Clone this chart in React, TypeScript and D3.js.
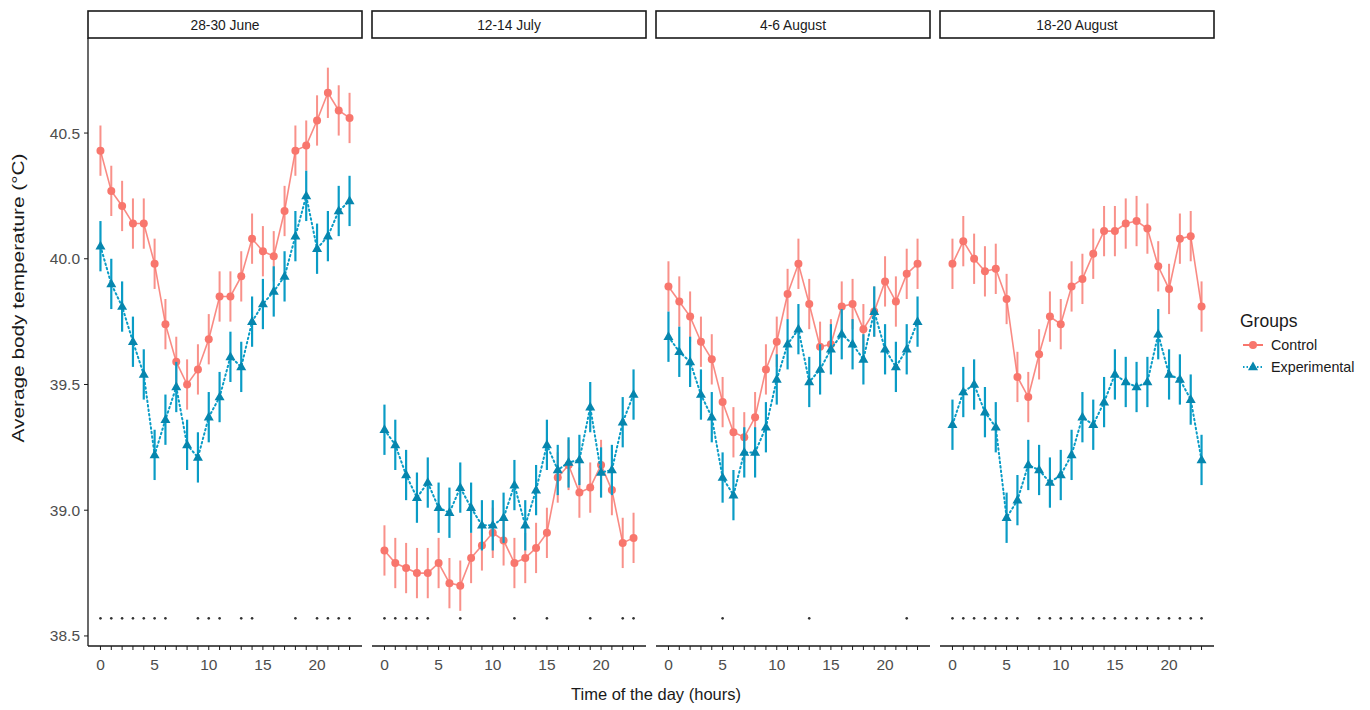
import React from 'react'
import * as d3 from 'd3'

// hours of the day
const hours = [0, 1, 2, 3, 4, 5, 6, 7, 8, 9, 10, 11, 12, 13, 14, 15, 16, 17, 18, 19, 20, 21, 22, 23]
const periods = ['28-30 June', '12-14 July', '4-6 August', '18-20 August']
const groups = ['Control', 'Experimental']
const xTicks = [0, 5, 10, 15, 20]
const yTicks = [38.5, 39.0, 39.5, 40.0, 40.5]

// mean body temperature per hour
const controlJune = [40.43, 40.27, 40.21, 40.14, 40.14, 39.98, 39.74, 39.59, 39.50, 39.56, 39.68, 39.85, 39.85, 39.93, 40.08, 40.03, 40.01, 40.19, 40.43, 40.45, 40.55, 40.66, 40.59, 40.56]
const experimentalJune = [40.05, 39.90, 39.81, 39.67, 39.54, 39.22, 39.36, 39.49, 39.26, 39.21, 39.37, 39.45, 39.61, 39.57, 39.75, 39.82, 39.87, 39.93, 40.09, 40.25, 40.04, 40.09, 40.19, 40.23]
const controlJuly = [38.84, 38.79, 38.77, 38.75, 38.75, 38.79, 38.71, 38.70, 38.81, 38.86, 38.91, 38.88, 38.79, 38.81, 38.85, 38.91, 39.13, 39.18, 39.07, 39.09, 39.18, 39.08, 38.87, 38.89]
const experimentalJuly = [39.32, 39.26, 39.14, 39.05, 39.11, 39.01, 38.99, 39.09, 39.01, 38.94, 38.94, 38.97, 39.10, 38.94, 39.08, 39.26, 39.16, 39.19, 39.20, 39.41, 39.15, 39.16, 39.35, 39.46]
const controlAug1 = [39.89, 39.83, 39.77, 39.67, 39.60, 39.43, 39.31, 39.29, 39.37, 39.56, 39.67, 39.86, 39.98, 39.82, 39.65, 39.66, 39.81, 39.82, 39.72, 39.79, 39.91, 39.83, 39.94, 39.98]
const experimentalAug1 = [39.69, 39.63, 39.59, 39.46, 39.37, 39.13, 39.06, 39.23, 39.23, 39.33, 39.52, 39.66, 39.72, 39.51, 39.56, 39.64, 39.70, 39.66, 39.60, 39.79, 39.64, 39.57, 39.64, 39.75]
const controlAug2 = [39.98, 40.07, 40.00, 39.95, 39.96, 39.84, 39.53, 39.45, 39.62, 39.77, 39.74, 39.89, 39.92, 40.02, 40.11, 40.11, 40.14, 40.15, 40.12, 39.97, 39.88, 40.08, 40.09, 39.81]
const experimentalAug2 = [39.34, 39.47, 39.50, 39.39, 39.33, 38.97, 39.04, 39.18, 39.16, 39.11, 39.14, 39.22, 39.37, 39.34, 39.43, 39.54, 39.51, 39.49, 39.51, 39.70, 39.54, 39.52, 39.44, 39.20]

// standard error of each mean (roughly constant)
const seControl = 0.1
const seExperimental = 0.1

// hours with a significant difference between groups
const sigJune = [0, 1, 2, 3, 4, 5, 6, 9, 10, 11, 13, 14, 18, 20, 21, 22, 23]
const sigJuly = [0, 1, 2, 3, 4, 7, 12, 15, 19, 22, 23]
const sigAug1 = [5, 13, 22]
const sigAug2 = [0, 1, 2, 3, 4, 5, 6, 8, 9, 10, 11, 12, 13, 14, 15, 16, 17, 18, 19, 20, 21, 22, 23]
const sigLevel = 38.57

const controlSeries = [controlJune, controlJuly, controlAug1, controlAug2]
const experimentalSeries = [experimentalJune, experimentalJuly, experimentalAug1, experimentalAug2]
const sigSeries = [sigJune, sigJuly, sigAug1, sigAug2]

const ctrlColor = '#F8766D'
const expColor = '#0A9CC6'
const expDark = '#0686AE'
const font = '"Liberation Sans", Arial, sans-serif'

const panelLeft = 88
const panelW = 274
const panelGap = 10
const top = 38
const bottom = 646

const y = d3.scaleLinear().domain([38.46, 40.878]).range([bottom, top])
const x = d3.scaleLinear().domain([-1.15, 24.15]).range([0, panelW])

function tri(cx: number, cy: number, s: number) {
  const h = s * 0.87
  return `M${cx},${cy - h * 0.62}L${cx + s / 2},${cy + h * 0.38}L${cx - s / 2},${cy + h * 0.38}Z`
}

function Panel({ i }: { i: number }) {
  const left = panelLeft + i * (panelW + panelGap)
  const ctrl = controlSeries[i]
  const exp = experimentalSeries[i]
  const line = d3.line<number>().x((d, k) => x(hours[k])).y(d => y(d))
  return (
    <g transform={`translate(${left},0)`}>
      <rect x={0} y={11} width={panelW} height={top - 11} fill="white" stroke="#1a1a1a" strokeWidth={1.6} />
      <text x={panelW / 2} y={29.5} textAnchor="middle" fontSize={13.8} fill="#1a1a1a" fontFamily={font}>{periods[i]}</text>

      {/* control */}
      <path d={line(ctrl) || ''} fill="none" stroke={ctrlColor} strokeWidth={1.6} opacity={0.85} />
      {ctrl.map((v, k) => (
        <line key={'ce' + k} x1={x(hours[k])} x2={x(hours[k])} y1={y(v - seControl)} y2={y(v + seControl)} stroke={ctrlColor} strokeWidth={2} opacity={0.8} />
      ))}
      {ctrl.map((v, k) => (
        <circle key={'cp' + k} cx={x(hours[k])} cy={y(v)} r={4} fill={ctrlColor} />
      ))}

      {/* experimental */}
      <path d={line(exp) || ''} fill="none" stroke={expColor} strokeWidth={2} strokeDasharray="1.5,3" strokeLinecap="round" />
      {exp.map((v, k) => (
        <line key={'ee' + k} x1={x(hours[k])} x2={x(hours[k])} y1={y(v - seExperimental)} y2={y(v + seExperimental)} stroke={expColor} strokeWidth={2.2} />
      ))}
      {exp.map((v, k) => (
        <path key={'ep' + k} d={tri(x(hours[k]), y(v), 10)} fill={expDark} />
      ))}

      {/* significance marks */}
      {sigSeries[i].map(h => (
        <circle key={'s' + h} cx={x(h)} cy={y(sigLevel)} r={1.3} fill="#333" />
      ))}

      {/* x axis */}
      <line x1={0} x2={panelW} y1={bottom} y2={bottom} stroke="#1a1a1a" strokeWidth={1.3} />
      {hours.map(h => (
        <line key={'t' + h} x1={x(h)} x2={x(h)} y1={bottom} y2={bottom + 4} stroke="#1a1a1a" strokeWidth={1} />
      ))}
      {xTicks.map(t => (
        <text key={'l' + t} x={x(t)} y={bottom + 24} textAnchor="middle" fontSize={15.5} fill="#4d4d4d" fontFamily={font}>{t}</text>
      ))}
    </g>
  )
}

export default function App() {
  return (
    <svg width={1370} height={710} style={{ position: 'absolute', left: 0, top: 0, display: 'block' }}>
      <rect width={1370} height={710} fill="white" />
      {periods.map((p, i) => <Panel key={p} i={i} />)}

      {/* y axis */}
      <line x1={panelLeft} x2={panelLeft} y1={top} y2={bottom} stroke="#1a1a1a" strokeWidth={1.3} />
      {yTicks.map(t => (
        <g key={t}>
          <line x1={panelLeft - 4} x2={panelLeft} y1={y(t)} y2={y(t)} stroke="#1a1a1a" strokeWidth={1} />
          <text x={panelLeft - 8} y={y(t) + 5.5} textAnchor="end" fontSize={15.5} fill="#4d4d4d" fontFamily={font}>{t.toFixed(1)}</text>
        </g>
      ))}
      <text transform={`translate(24,298) rotate(-90)`} textAnchor="middle" fontSize={17} textLength={289} lengthAdjust="spacingAndGlyphs" fill="#1a1a1a" fontFamily={font}>Average body temperature (°C)</text>
      <text x={656} y={700} textAnchor="middle" fontSize={16.5} fill="#1a1a1a" fontFamily={font}>Time of the day (hours)</text>

      {/* legend */}
      <text x={1240} y={327} fontSize={17.5} fill="#1a1a1a" fontFamily={font}>Groups</text>
      {groups.map((g, k) => {
        const ly = 345 + k * 22
        const col = k === 0 ? ctrlColor : expColor
        return (
          <g key={g}>
            <line x1={1243} x2={1263} y1={ly} y2={ly} stroke={col} strokeWidth={2} strokeDasharray={k === 0 ? undefined : '1.5,2'} />
            {k === 0
              ? <circle cx={1253} cy={ly} r={4} fill={ctrlColor} />
              : <path d={tri(1253, ly, 10)} fill={expDark} />}
            <text x={1271} y={ly + 5} fontSize={14.3} fill="#1a1a1a" fontFamily={font}>{g}</text>
          </g>
        )
      })}
    </svg>
  )
}
